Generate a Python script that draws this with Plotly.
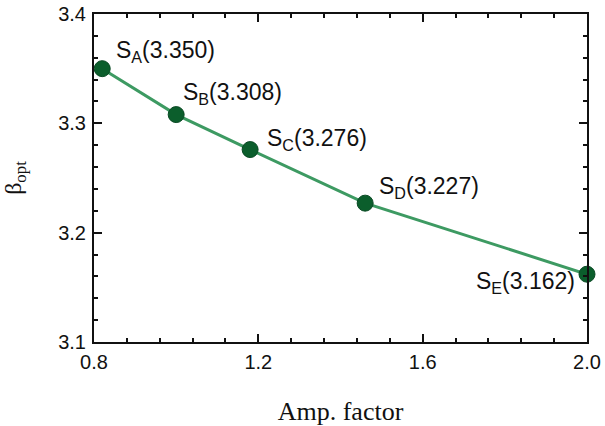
import plotly.graph_objects as go

amp = [0.82, 1.0, 1.18, 1.46, 2.0]
beta = [3.350, 3.308, 3.276, 3.227, 3.162]
names = ["A", "B", "C", "D", "E"]
label_pos = [(12, 17, "left"), (5, 21, "left"), (15, 10, "left"), (12, 16, "left"), (-10, -8, "right")]

fig = go.Figure()
fig.add_trace(go.Scatter(
    x=amp, y=beta, mode="lines+markers",
    line=dict(color="#3d9a62", width=3),
    marker=dict(size=16, color="#0b5e2c", line=dict(color="#0a4a24", width=1)),
    showlegend=False, cliponaxis=False,
))
for xv, yv, n, (dx, dy, anc) in zip(amp, beta, names, label_pos):
    fig.add_annotation(
        x=xv, y=yv, xref="x", yref="y", showarrow=False,
        text=f"S<sub>{n}</sub>({yv:.3f})",
        xanchor=anc, yanchor="middle", xshift=dx, yshift=dy,
        font=dict(family="Liberation Sans, Arial", size=23, color="#111"),
    )

axis_common = dict(
    showline=True, linecolor="#111", linewidth=2, mirror="allticks",
    ticks="inside", ticklen=8, tickwidth=2, tickcolor="#111",
    showgrid=False, zeroline=False, automargin=False, ticklabeloverflow="allow",
    tickfont=dict(family="Liberation Sans, Arial", size=20, color="#111"),
)
fig.update_xaxes(
    range=[0.8, 2.0], tickvals=[0.8, 1.2, 1.6, 2.0], ticktext=["0.8", "1.2", "1.6", "2.0"],
    minor=dict(ticks="inside", ticklen=4, tickwidth=2, tickcolor="#111", dtick=0.08, tick0=0.8),
    ticklabelstandoff=1,
    title=dict(text="Amp. factor", font=dict(family="Liberation Serif, Times New Roman", size=26, color="#111"), standoff=30),
    **axis_common,
)
fig.update_yaxes(
    range=[3.1, 3.4], tickvals=[3.1, 3.2, 3.3, 3.4], ticktext=["3.1", "3.2", "3.3", "3.4"],
    minor=dict(ticks="inside", ticklen=4, tickwidth=2, tickcolor="#111", dtick=0.02, tick0=3.1),
    ticklabelstandoff=2,
    title=dict(text="β<sub>opt</sub>", font=dict(family="Liberation Serif, Times New Roman", size=24, color="#111"), standoff=31),
    **axis_common,
)
fig.update_layout(
    width=605, height=426,
    margin=dict(l=94, r=18, t=14, b=84),
    plot_bgcolor="white", paper_bgcolor="white",
)
fig.write_html("out.html", config={"displayModeBar": False},
               post_script="document.body.style.margin='0px';")
